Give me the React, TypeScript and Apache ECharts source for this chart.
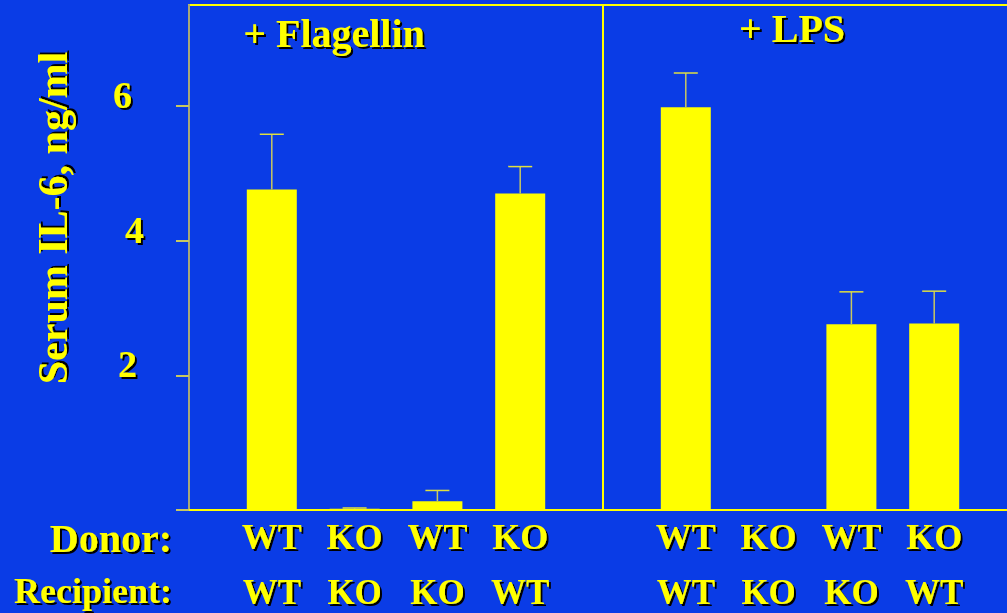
import React, { useEffect, useRef } from 'react';
import * as echarts from 'echarts';

// ---- data ----
const xPositions = [1, 2, 3, 4, 6, 7, 8, 9];
const donors = ['WT', 'KO', 'WT', 'KO', 'WT', 'KO', 'WT', 'KO'];
const recipients = ['WT', 'KO', 'KO', 'WT', 'WT', 'KO', 'KO', 'WT'];
const il6Means = [4.76, 0.02, 0.13, 4.7, 5.98, 0, 2.76, 2.77];
const il6Errors = [0.82, 0.01, 0.16, 0.4, 0.51, 0, 0.48, 0.48];
const yTicks = [0, 2, 4, 6];
const yTickLabels = [2, 4, 6];
const panelTitles = ['+ Flagellin', '+ LPS'];
const panelDivider = 5;
const yAxisTitle = 'Serum IL-6, ng/ml';
const rowTitles = ['Donor:', 'Recipient:'];

const BG = '#0a3ce6';
const YEL = '#ffff00';
const FONT = '"Liberation Serif", "Times New Roman", serif';
const shadow = {
  textShadowColor: '#000',
  textShadowOffsetX: 2,
  textShadowOffsetY: 2,
  textShadowBlur: 1,
};

function txt(text: string, x: number, y: number, size: number, align: string, rotation = 0) {
  return {
    type: 'text',
    x,
    y,
    rotation,
    style: {
      text,
      fill: YEL,
      font: `bold ${size}px ${FONT}`,
      textAlign: align,
      align,
      textVerticalAlign: 'middle',
      verticalAlign: 'middle',
      ...shadow,
    },
  };
}

const tickRich: any = {};
const tickPadRight: Record<string, number> = { '2': 7, '4': 0, '6': 12 };
yTickLabels.forEach((v) => {
  tickRich['t' + v] = {
    color: YEL,
    fontFamily: FONT,
    fontWeight: 'bold',
    fontSize: 38,
    padding: [0, tickPadRight[String(v)] ?? 0, 22, 0],
    ...shadow,
  };
});

const catLabelStyle = {
  color: YEL,
  fontFamily: FONT,
  fontWeight: 'bold',
  ...shadow,
};

const option: any = {
  animation: false,
  backgroundColor: BG,
  grid: {
    left: 189,
    right: -10,
    top: 5,
    bottom: 103,
    outerBoundsMode: 'none',
    containLabel: false,
    show: true,
    borderColor: YEL,
    borderWidth: 2,
    backgroundColor: 'transparent',
  },
  xAxis: {
    type: 'value',
    min: 0,
    max: 10,
    splitLine: { show: false },
    axisTick: { show: false },
    axisLine: { show: true, lineStyle: { color: YEL, width: 2 } },
    axisLabel: {
      customValues: xPositions,
      formatter: (v: number) => {
        const i = xPositions.indexOf(v);
        return i < 0 ? '' : `{d|${donors[i]}}\n{r|${recipients[i]}}`;
      },
      rich: {
        d: { ...catLabelStyle, fontSize: 36, lineHeight: 76 },
        r: { ...catLabelStyle, fontSize: 35, lineHeight: 34 },
      },
      margin: -11,
    },
  },
  yAxis: {
    type: 'value',
    min: 0,
    max: 7.5,
    interval: 2,
    splitLine: { show: false },
    axisLine: { show: true, lineStyle: { color: '#a8a878', width: 2 } },
    axisTick: {
      show: true,
      length: 13,
      customValues: yTicks,
      lineStyle: { color: '#c8c860', width: 2 },
    },
    axisLabel: {
      customValues: yTickLabels,
      formatter: (v: number) => `{t${v}|${v}}`,
      rich: tickRich,
      margin: 45,
    },
  },
  graphic: [
    txt(panelTitles[0], 334, 33, 40, 'center'),
    txt(panelTitles[1], 792, 28, 40, 'center'),
    txt(yAxisTitle, 53, 218, 42, 'center', Math.PI / 2),
    txt(rowTitles[0], 172, 538, 40, 'right'),
    txt(rowTitles[1], 172, 591, 36, 'right'),
  ],
  series: [
    {
      type: 'bar',
      data: xPositions.map((x, i) => [x, il6Means[i]]),
      barWidth: 50,
      itemStyle: { color: YEL },
      z: 2,
    },
    {
      type: 'custom',
      data: xPositions.map((x, i) => [x, il6Means[i], il6Errors[i]]),
      encode: { x: 0, y: 1 },
      z: 3,
      renderItem: (params: any, api: any) => {
        const x = api.value(0);
        const m = api.value(1);
        const e = api.value(2);
        if (!(e > 0)) return { type: 'group', children: [] };
        const base = api.coord([x, m]);
        const top = api.coord([x, m + e]);
        return {
          type: 'group',
          children: [
            {
              type: 'line',
              shape: { x1: base[0], y1: base[1], x2: top[0], y2: top[1] },
              style: { stroke: '#c8c860', lineWidth: 1.5 },
            },
            {
              type: 'line',
              shape: { x1: top[0] - 12, y1: top[1], x2: top[0] + 12, y2: top[1] },
              style: { stroke: '#e0e040', lineWidth: 1.5 },
            },
          ],
        };
      },
      markLine: {
        silent: true,
        symbol: 'none',
        label: { show: false },
        lineStyle: { color: YEL, width: 2, type: 'solid' },
        data: [{ xAxis: panelDivider }],
      },
    },
  ],
};

export default function App() {
  const ref = useRef<HTMLDivElement>(null);
  useEffect(() => {
    const chart = echarts.init(ref.current!, undefined, { renderer: 'svg' });
    chart.setOption(option);
    return () => chart.dispose();
  }, []);
  return (
    <div
      ref={ref}
      style={{ position: 'fixed', left: 0, top: 0, width: 1007, height: 613 }}
    />
  );
}
